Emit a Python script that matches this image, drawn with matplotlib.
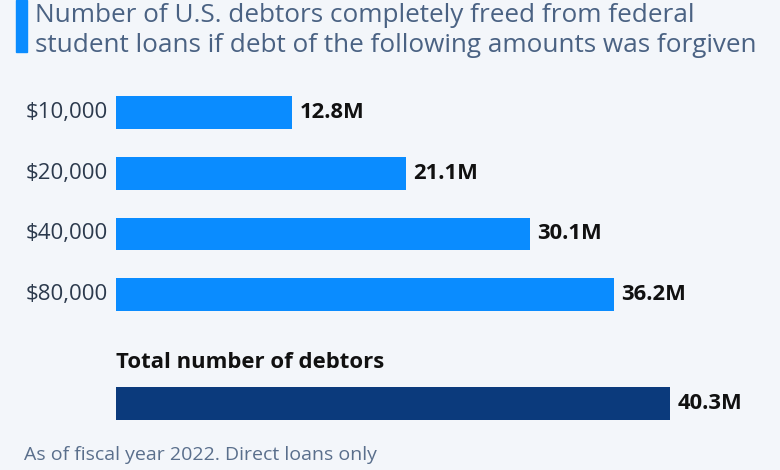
import numpy as np
import matplotlib.pyplot as plt

# ---------- Data ----------
amounts = ["$10,000", "$20,000", "$40,000", "$80,000"]
freed_m = [12.8, 21.1, 30.1, 36.2]
total_label = "Total number of debtors"
total_m = 40.3
title_lines = ["Number of U.S. debtors completely freed from federal",
               "student loans if debt of the following amounts was forgiven"]
note = "As of fiscal year 2022. Direct loans only"
# --------------------------

BG = "#f3f6fa"
BLUE = "#0a8cff"
NAVY = "#0b3a7c"
TITLE_C = "#4a6283"
LABEL_C = "#2c3a4d"

plt.rcParams["font.family"] = ["Open Sans", "DejaVu Sans"]

W, H = 780, 470
fig = plt.figure(figsize=(W / 100, H / 100), dpi=100, facecolor=BG)

# axes spans bar region horizontally (x=116..670 px), full height
ax = fig.add_axes([116 / W, 0, (670 - 116) / W, 1])
ax.set_facecolor(BG)
ax.axis("off")

pitch = 60.7
y0 = 112.5
pos = np.arange(len(amounts))
total_pos = 4.8
ax.set_ylim((H - y0) / pitch, -y0 / pitch)
ax.set_xlim(0, total_m)

bh = 0.54
ax.barh(pos, freed_m, height=bh, color=BLUE)
ax.barh([total_pos], [total_m], height=bh, color=NAVY)

for p, v, lab in zip(pos, freed_m, amounts):
    ax.text(v + 0.55, p, f"{v:.1f}M", va="center", ha="left",
            fontsize=15.8, fontweight="bold", color="#111111", clip_on=False)
    ax.text(-0.6, p, lab, va="center", ha="right",
            fontsize=16, color=LABEL_C, clip_on=False)

ax.text(total_m + 0.55, total_pos, f"{total_m:.1f}M", va="center", ha="left",
        fontsize=15.8, fontweight="bold", color="#111111", clip_on=False)
ax.text(0, total_pos - 0.68, total_label, va="center", ha="left",
        fontsize=15.9, fontweight="bold", color="#111111", clip_on=False)

# title with accent bar
fig.patches.append(plt.Rectangle((16 / W, 1 - 52 / H), 11 / W, 52 / H,
                                 transform=fig.transFigure, color=BLUE))
for i, line in enumerate(title_lines):
    fig.text(35 / W, 1 - (15 + 31 * i) / H, line, ha="left", va="center",
             fontsize=18.8, color=TITLE_C)

fig.text(24 / W, 1 - 455 / H, note, ha="left", va="center",
         fontsize=14, color="#5a6f8c")

fig.savefig("out.png", dpi=100, facecolor=BG)
